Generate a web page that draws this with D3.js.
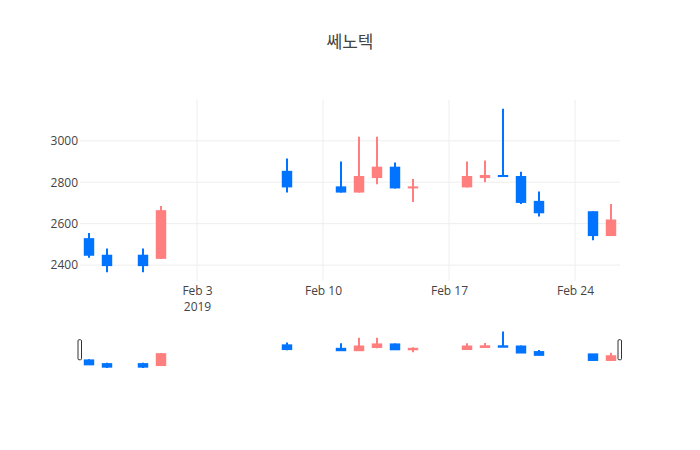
<!DOCTYPE html>
<html>
<head>
<meta charset="utf-8">
<script src="https://cdn.jsdelivr.net/npm/d3@7"></script>
<style>
  html, body { margin: 0; padding: 0; background: #fff; }
  svg { display: block; font-family: "Open Sans", "Noto Sans", sans-serif; }
</style>
</head>
<body>
<svg id="chart" width="700" height="450"></svg>
<script>
// ---- data ----
const title = "쎄노텍";
const dates = ["2019-01-28","2019-01-29","2019-01-31","2019-02-01","2019-02-08",
               "2019-02-11","2019-02-12","2019-02-13","2019-02-14","2019-02-15",
               "2019-02-18","2019-02-19","2019-02-20","2019-02-21","2019-02-22",
               "2019-02-25","2019-02-26"];
const openV  = [2530, 2450, 2450, 2430, 2855, 2780, 2750, 2820, 2875, 2770, 2775, 2820, 2835, 2830, 2710, 2660, 2540];
const highV  = [2555, 2480, 2480, 2685, 2915, 2900, 3020, 3020, 2895, 2815, 2900, 2905, 3155, 2850, 2755, 2660, 2695];
const lowV   = [2435, 2365, 2365, 2430, 2750, 2750, 2750, 2790, 2770, 2705, 2775, 2800, 2825, 2695, 2635, 2520, 2540];
const closeV = [2445, 2395, 2395, 2665, 2775, 2750, 2830, 2875, 2770, 2780, 2830, 2835, 2825, 2700, 2650, 2540, 2620];
const yTickValues = [2400, 2600, 2800, 3000];
const xTickDates = ["2019-02-03","2019-02-10","2019-02-17","2019-02-24"];
const xTickLabels = [["Feb 3","2019"],["Feb 10"],["Feb 17"],["Feb 24"]];
const xRange = ["2019-01-27T12:00:00","2019-02-26T12:00:00"];

// ---- layout ----
const W = 700, H = 450;
const L = 80, R = 620;
const mainTop = 100, mainBottom = 281;
const sliderTop = 329.5, sliderBottom = 370;
const upColor = "#ff7f7f", downColor = "#0074ff";

const parse = d3.timeParse("%Y-%m-%d");
const parseT = d3.timeParse("%Y-%m-%dT%H:%M:%S");
const data = dates.map((d, i) => ({
  date: parse(d), open: openV[i], high: highV[i], low: lowV[i], close: closeV[i]
}));

const svg = d3.select("#chart");

const x = d3.scaleTime().domain(xRange.map(parseT)).range([L, R]);
const dayPx = x(parse("2019-02-02")) - x(parse("2019-02-01"));
const bodyW = dayPx * 0.58;

const yMin = d3.min(lowV), yMax = d3.max(highV);
const pad = (yMax - yMin) * 0.053;
const y = d3.scaleLinear().domain([yMin - pad, yMax + pad]).range([mainBottom, mainTop]);
const ys = d3.scaleLinear().domain([yMin - pad, yMax + pad]).range([sliderBottom, sliderTop]);

// title
svg.append("text")
  .attr("x", W / 2).attr("y", 48)
  .attr("text-anchor", "middle")
  .attr("font-family", "'Noto Sans CJK KR', 'Open Sans', sans-serif")
  .attr("font-size", 17).attr("fill", "#444")
  .text(title);

// grid
const grid = svg.append("g");
grid.selectAll("line.h").data(yTickValues).join("line")
  .attr("x1", L).attr("x2", R)
  .attr("y1", d => y(d)).attr("y2", d => y(d))
  .attr("stroke", "#eee").attr("stroke-width", 1);
grid.selectAll("line.v").data(xTickDates.map(parse)).join("line")
  .attr("x1", d => x(d)).attr("x2", d => x(d))
  .attr("y1", mainTop).attr("y2", mainBottom)
  .attr("stroke", "#eee").attr("stroke-width", 1);

// y axis labels
const yAxis = d3.axisLeft(y).tickValues(yTickValues).tickSize(0).tickPadding(2).tickFormat(d3.format("d"));
const gy = svg.append("g").attr("transform", `translate(${L},0)`).call(yAxis);
gy.select(".domain").remove();
gy.selectAll("text").attr("font-size", 12).attr("fill", "#444")
  .attr("font-family", "'Open Sans', sans-serif");

// x axis labels
const xAxis = d3.axisBottom(x).tickValues(xTickDates.map(parse)).tickSize(0).tickFormat(() => "");
const gx = svg.append("g").attr("transform", `translate(0,${mainBottom})`).call(xAxis);
gx.select(".domain").remove();
gx.selectAll(".tick text").remove();
gx.selectAll(".tick").each(function(d, i) {
  const t = d3.select(this);
  xTickLabels[i].forEach((s, k) => {
    t.append("text")
      .attr("x", 0).attr("y", 14 + k * 15.5)
      .attr("text-anchor", "middle")
      .attr("font-size", 12).attr("fill", "#444")
      .attr("font-family", "'Open Sans', sans-serif")
      .text(s);
  });
});

function drawCandles(g, yScale, lw, bodyStroke) {
  const c = g.selectAll("g.c").data(data).join("g").attr("class", "c");
  c.each(function(d) {
    const col = d.close > d.open ? upColor : downColor;
    const sel = d3.select(this);
    sel.append("line")
      .attr("x1", x(d.date)).attr("x2", x(d.date))
      .attr("y1", yScale(d.high)).attr("y2", yScale(d.low))
      .attr("stroke", col).attr("stroke-width", lw);
    const top = yScale(Math.max(d.open, d.close));
    const bot = yScale(Math.min(d.open, d.close));
    const s = bodyStroke;
    sel.append("rect")
      .attr("x", x(d.date) - bodyW / 2 + s / 2).attr("width", bodyW - s)
      .attr("y", top).attr("height", Math.max(bot - top, s > 0 ? 0.1 : 2))
      .attr("fill", col)
      .attr("stroke", s > 0 ? col : "none").attr("stroke-width", s);
  });
}

drawCandles(svg.append("g"), y, 2, 0);

// range slider
const slider = svg.append("g");
slider.append("rect").attr("x", L).attr("y", sliderTop)
  .attr("width", R - L).attr("height", sliderBottom - sliderTop).attr("fill", "#fff");
drawCandles(slider.append("g"), ys, 2, 2);
const hMid = (sliderTop + sliderBottom) / 2;
[L, R].forEach(px => {
  slider.append("rect")
    .attr("x", px - 2).attr("y", hMid - 10)
    .attr("width", 3.5).attr("height", 20)
    .attr("rx", 1).attr("ry", 1)
    .attr("fill", "#fff").attr("stroke", "#333").attr("stroke-width", 1);
});
</script>
</body>
</html>
